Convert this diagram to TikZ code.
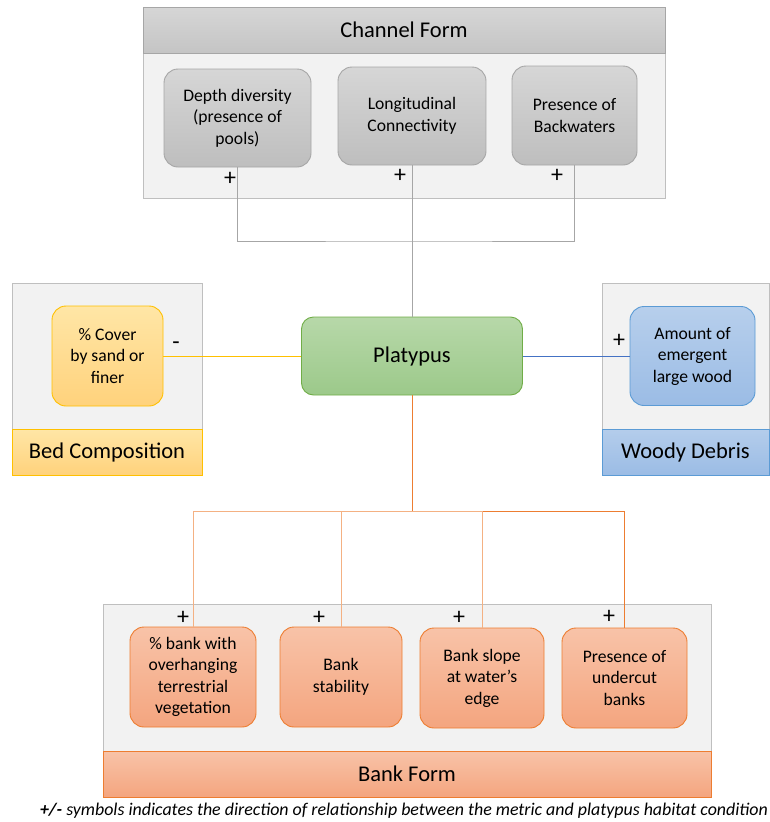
\documentclass[tikz,border=0pt]{standalone}
\usepackage{fontspec}
\setmainfont{Carlito}
\usepackage{tikz}
\definecolor{panelfill}{HTML}{F2F2F2}
\definecolor{panelline}{HTML}{BFBFBF}
\definecolor{greyline}{HTML}{A6A6A6}
\definecolor{greytop}{HTML}{D6D6D6}
\definecolor{greybot}{HTML}{BEBEBE}
\definecolor{sandline}{HTML}{FFC000}
\definecolor{sandtop}{HTML}{FFE6A6}
\definecolor{sandbot}{HTML}{FFD27C}
\definecolor{woodline}{HTML}{5B9BD5}
\definecolor{woodlink}{HTML}{4472C4}
\definecolor{woodtop}{HTML}{B7CFEC}
\definecolor{woodbot}{HTML}{9BBCE5}
\definecolor{platline}{HTML}{70AD47}
\definecolor{plattop}{HTML}{B7D8A9}
\definecolor{platbot}{HTML}{9CC98A}
\definecolor{bankline}{HTML}{ED7D31}
\definecolor{banklight}{HTML}{F4B183}
\definecolor{banktop}{HTML}{F8C3A8}
\definecolor{bankbot}{HTML}{F4A57F}
\tikzset{
  panel/.style={draw=panelline, fill=panelfill, line width=0.9pt, inner sep=0pt},
  band/.style={line width=0.9pt, inner sep=0pt, font=\fontsize{22.5}{27}\selectfont},
  metric/.style={rounded corners=14pt, line width=0.9pt, inner sep=0pt, align=center,
    font=\fontsize{17.6}{21.5}\selectfont},
  chanbox/.style={metric, draw=greyline, top color=greytop, bottom color=greybot},
  sandbox/.style={metric, draw=sandline, top color=sandtop, bottom color=sandbot},
  woodbox/.style={metric, draw=woodline, top color=woodtop, bottom color=woodbot},
  bankbox/.style={metric, draw=bankline, top color=banktop, bottom color=bankbot},
  sign/.style={inner sep=0pt, font=\fontsize{24}{24}\selectfont},
  link/.style={line width=0.9pt}
}

\begin{document}
\begin{tikzpicture}[x=1pt, y=-1pt]
  \useasboundingbox (0,0) rectangle (770,822);

  % Channel Form
  \node[panel, minimum width=522pt, minimum height=191pt] (chanpanel) at (404,102.5) {};
  \node[band, draw=greyline, top color=greytop, bottom color=greybot!90,
    minimum width=522pt, minimum height=46pt] (chanhead) at (404,30) {Channel Form};
  \node[chanbox, minimum width=147pt, minimum height=98pt] (depth) at (237.5,118)
    {Depth diversity\\(presence of\\pools)};
  \node[chanbox, minimum width=148pt, minimum height=98pt] (longi) at (412,116)
    {Longitudinal\\Connectivity};
  \node[chanbox, minimum width=125pt, minimum height=99pt] (backw) at (574.5,115.5)
    {Presence of\\Backwaters};

  % Bed Composition
  \node[panel, minimum width=190pt, minimum height=192pt] (bedpanel) at (107,379) {};
  \node[band, draw=sandline, top color=sandtop, bottom color=sandbot,
    minimum width=190pt, minimum height=46pt] (bedhead) at (107,452) {Bed Composition};
  \node[sandbox, minimum width=111pt, minimum height=100pt] (sand) at (107.5,356)
    {\% Cover\\by sand or\\finer};

  % Woody Debris
  \node[panel, minimum width=167pt, minimum height=192pt] (woodpanel) at (685.5,379) {};
  \node[band, draw=woodline, top color=woodtop!90!woodbot, bottom color=woodbot,
    minimum width=167pt, minimum height=46pt] (woodhead) at (685.5,452) {Woody Debris};
  \node[woodbox, minimum width=125pt, minimum height=99pt] (wood) at (692.5,356)
    {Amount of\\emergent\\large wood};

  % Platypus
  \node[metric, rounded corners=12pt, draw=platline, top color=plattop, bottom color=platbot,
    minimum width=221pt, minimum height=78pt, font=\fontsize{22.5}{27}\selectfont]
    (platypus) at (412,356) {Platypus};

  % Bank Form
  \node[panel, minimum width=608pt, minimum height=193pt] (bankpanel) at (407,700.5) {};
  \node[band, draw=bankline, top color=banktop, bottom color=bankbot,
    minimum width=608pt, minimum height=46pt] (bankhead) at (407,774) {Bank Form};
  \node[bankbox, minimum width=126pt, minimum height=100pt] (overhang) at (193,677)
    {\% bank with\\overhanging\\terrestrial\\vegetation};
  \node[bankbox, minimum width=122pt, minimum height=100pt] (stability) at (341,677)
    {Bank\\stability};
  \node[bankbox, minimum width=124pt, minimum height=100pt] (slope) at (482,678)
    {Bank slope\\at water’s\\edge};
  \node[bankbox, minimum width=125pt, minimum height=100pt] (undercut) at (624.5,678)
    {Presence of\\undercut\\banks};

  % joins
  \coordinate (chanjoin) at (412,241);
  \coordinate (bankjoin) at (412,511);

  \draw[link, draw=greyline] (depth.south) |- (chanjoin) -| (backw.south);
  \draw[link, draw=greyline] (longi.south) -- (platypus.north);
  \draw[link, draw=sandline] (sand.east) -- (platypus.west);
  \draw[link, draw=woodlink] (platypus.east) -- (wood.west);
  \draw[link, draw=bankline] (platypus.south) -- (bankjoin) -| (undercut.north);
  \draw[link, draw=banklight] (bankjoin) -| (overhang.north);
  \draw[link, draw=banklight] (bankjoin) -| (stability.north);
  \draw[link, draw=banklight] (bankjoin) -| (slope.north);

  % signs
  \node[sign] (sdepth) at (230,179) {+};
  \node[sign] (slongi) at (400,176) {+};
  \node[sign] (sbackw) at (557,176) {+};
  \node[sign] (ssand) at (176,346) {-};
  \node[sign] (swood) at (619,341) {+};
  \node[sign] (soverhang) at (183,618) {+};
  \node[sign] (sstability) at (319,618) {+};
  \node[sign] (sslope) at (459,618) {+};
  \node[sign] (sundercut) at (609,617) {+};

  \node[inner sep=0pt, font=\fontsize{17.9}{20}\selectfont\itshape] (note) at (404,811)
    {\textbf{+/-} symbols indicates the direction of relationship between the metric and platypus habitat condition};
\end{tikzpicture}
\end{document}
